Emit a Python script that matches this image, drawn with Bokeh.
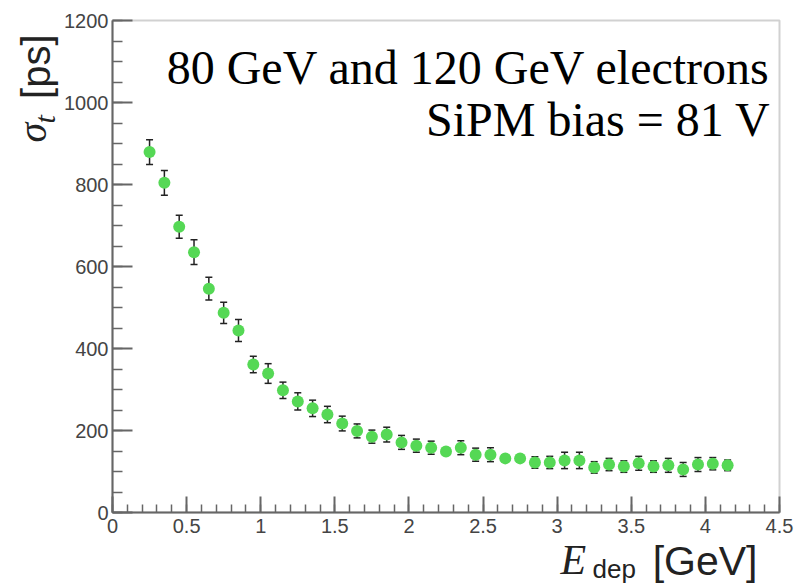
import math
from bokeh.plotting import figure
from bokeh.models import (ColumnDataSource, Label, Whisker, TeeHead, Range1d, BoxAnnotation,
                          SingleIntervalTicker, CustomJSTickFormatter)
from bokeh.embed import file_html
from bokeh.resources import INLINE

# ---- data ----
e_dep = [0.25, 0.35, 0.45, 0.55, 0.65, 0.75, 0.85, 0.95, 1.05, 1.15,
         1.25, 1.35, 1.45, 1.55, 1.65, 1.75, 1.85, 1.95, 2.05, 2.15,
         2.25, 2.35, 2.45, 2.55, 2.65, 2.75, 2.85, 2.95, 3.05, 3.15,
         3.25, 3.35, 3.45, 3.55, 3.65, 3.75, 3.85, 3.95, 4.05, 4.15]
sigma_t = [879, 804, 697, 635, 546, 487, 444, 361, 339, 298,
           271, 254, 239, 217, 199, 185, 190, 171, 163, 158,
           149, 158, 141, 141, 132, 132, 122, 122, 127, 127,
           110, 117, 112, 120, 112, 115, 105, 117, 119, 115]
sigma_err = [30, 30, 28, 30, 28, 26, 27, 20, 24, 20,
             21, 20, 20, 18, 17, 16, 18, 17, 16, 16,
             8, 17, 16, 17, 8, 8, 14, 15, 20, 20,
             14, 15, 14, 17, 14, 17, 17, 17, 15, 13]

title_lines = ["80 GeV and 120 GeV electrons", "SiPM bias = 81 V"]

W, H = 795, 585
X0, X1, Y0, Y1 = 0.0, 4.5, 0.0, 1200.0
FL, FR, FT, FB = 112, 779, 20, 512   # visible frame edges in page pixels

def dx(px):
    return X0 + (px - FL) * (X1 - X0) / (FR - FL)

def dy(py):
    return Y0 + (FB - py) * (Y1 - Y0) / (FB - FT)

src = ColumnDataSource(dict(
    x=e_dep, y=sigma_t,
    lo=[v - e for v, e in zip(sigma_t, sigma_err)],
    hi=[v + e for v, e in zip(sigma_t, sigma_err)],
))

# the plotting area covers the whole page; axes are pinned at x=0 / y=0
p = figure(width=W, height=H, x_range=Range1d(dx(0), dx(W)), y_range=Range1d(dy(H), dy(0)),
           output_backend="svg", toolbar_location=None,
           min_border_left=0, min_border_right=0, min_border_top=0, min_border_bottom=0)
p.title.visible = False
p.grid.visible = False
p.background_fill_color = "white"
p.border_fill_color = "white"
p.outline_line_color = None

ax_col = "#666666"
lab_col = "#444444"
p.xaxis.ticker = SingleIntervalTicker(interval=0.5, num_minor_ticks=5)
p.yaxis.ticker = SingleIntervalTicker(interval=200, num_minor_ticks=4)
p.xaxis.formatter = CustomJSTickFormatter(code="return String(Math.round(tick*10)/10)")
p.xaxis.fixed_location = Y0
p.yaxis.fixed_location = X0
p.xaxis.bounds = (X0, X1)
p.yaxis.bounds = (Y0, Y1)
for ax in (p.xaxis, p.yaxis):
    ax.axis_line_color = ax_col
    ax.axis_line_width = 2
    ax.major_tick_line_color = ax_col
    ax.minor_tick_line_color = ax_col
    ax.major_tick_line_width = 2
    ax.minor_tick_line_width = 1.5
    ax.major_tick_out = 0
    ax.minor_tick_out = 0
    ax.major_label_text_font = "Liberation Sans"
    ax.major_label_text_font_size = "20px"
    ax.major_label_text_color = lab_col
p.yaxis.major_tick_in = 20
p.yaxis.minor_tick_in = 10
p.xaxis.major_tick_in = 16
p.xaxis.minor_tick_in = 8
p.yaxis.major_label_standoff = 4
p.xaxis.major_label_standoff = 6

# frame box
p.add_layout(BoxAnnotation(left=X0, right=X1, bottom=Y0, top=Y1, fill_alpha=0,
                           line_color=ax_col, line_width=2, level="underlay"))

wh = Whisker(source=src, base="x", lower="lo", upper="hi",
             line_color="#222222", line_width=1.5, level="underlay",
             upper_head=TeeHead(size=7, line_color="#222222", line_width=1.5),
             lower_head=TeeHead(size=7, line_color="#222222", line_width=1.5))
p.add_layout(wh)
p.scatter("x", "y", source=src, size=12, fill_color="#55d855", line_color=None)

BASE_FIX = 0.383  # observed shift of the alphabetic baseline, in em

def lab(text, px, py, fs, font, align="left", style="normal", rotated=False, color="black"):
    if rotated:
        px -= BASE_FIX * fs
    else:
        py -= BASE_FIX * fs
    p.add_layout(Label(x=dx(px), y=dy(py), text=text,
                       text_font=font, text_font_size=f"{fs}px", text_align=align,
                       text_baseline="alphabetic", text_font_style=style,
                       angle=math.pi / 2 if rotated else 0.0, text_color=color))

lab(title_lines[0], 770, 85, 48, "Liberation Serif", align="right")
lab(title_lines[1], 770, 137, 48, "Liberation Serif", align="right")

lab("E", 560, 576, 42, "Liberation Serif", style="italic", color="#222222")
lab("dep", 592, 578, 26, "Liberation Sans", color="#222222")
lab("[GeV]", 757, 576, 41, "Liberation Sans", align="right", color="#222222")

lab("σ", 47, 142, 40, "Liberation Serif", style="italic", rotated=True, color="#222222")
lab("t", 55, 123, 30, "Liberation Serif", style="italic", rotated=True, color="#222222")
lab("[ps]", 51, 34, 40, "Liberation Sans", align="right", rotated=True, color="#222222")

open("out.html", "w").write(file_html(p, INLINE))
